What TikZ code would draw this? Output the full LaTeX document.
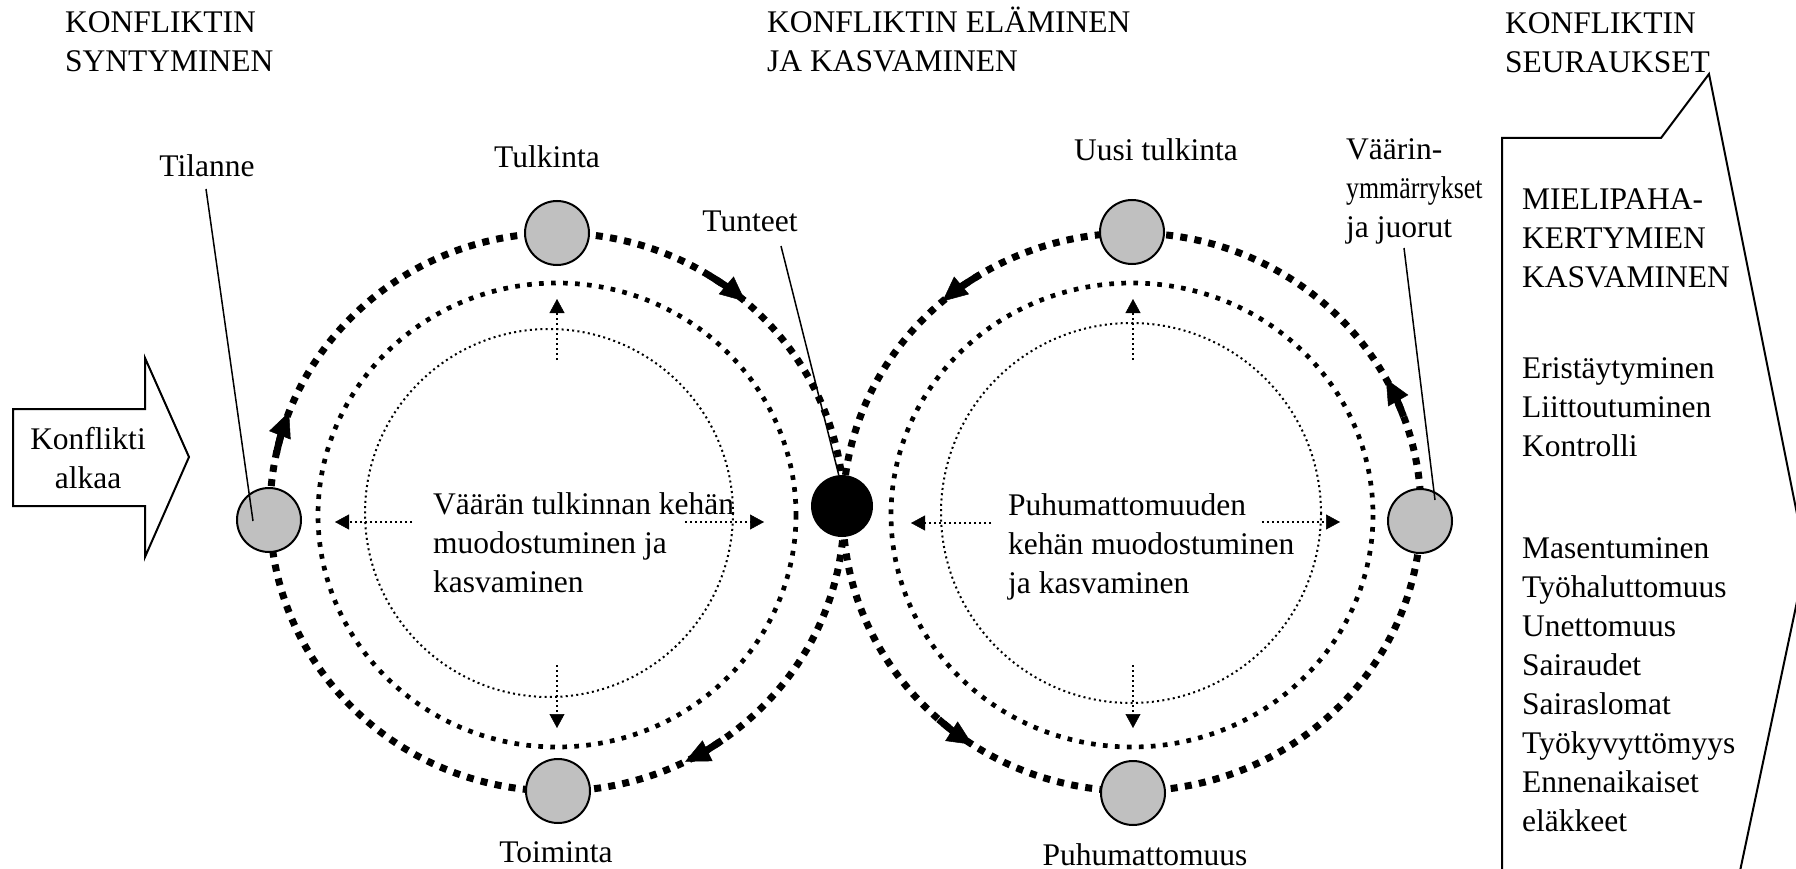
\documentclass[tikz,border=0pt]{standalone}
\usepackage{fontspec}
\usepackage{graphicx}
\setmainfont{Liberation Serif}
\usetikzlibrary{arrows.meta}
\definecolor{stationgray}{RGB}{192,192,192}
\newcommand\fs{\fontsize{31.5}{39}\selectfont}
\begin{document}
\begin{tikzpicture}[x=1pt,y=-1pt,
  outerring/.style={line width=7pt, dash pattern=on 7pt off 7.3pt},
  midring/.style={line width=4.7pt, dash pattern=on 4.7pt off 7.3pt},
  innerring/.style={line width=2pt, dash pattern=on 2pt off 3.3pt},
  flow/.style={line width=7pt, -{Triangle[length=25pt,width=23pt,line width=0.5pt]}},
  spread/.style={line width=2.4pt, dash pattern=on 2.4pt off 2.6pt,
    -{Triangle[length=14pt,width=15pt,line width=0.5pt]}},
  station/.style={circle, draw, line width=2pt, fill=stationgray,
    minimum size=64pt, inner sep=0pt},
  lbl/.style={inner sep=0pt, font=\fs, anchor=base},
  multi/.style={inner sep=0pt, font=\fs, align=left, anchor=north west},
  leader/.style={line width=1.5pt},
  outline/.style={line width=2pt, line join=miter}
]
\useasboundingbox (0,0) rectangle (1796,869);
\clip (0,0) rectangle (1796,869);

% ring centres
\coordinate (Lc) at (557,512);
\coordinate (Rc) at (1132,512);

% three rings of each loop
\draw[outerring] (Lc) ellipse[x radius=287, y radius=279];
\draw[outerring] (Rc) ellipse[x radius=289, y radius=279];
\draw[midring] (557,515) ellipse[x radius=239, y radius=232];
\draw[midring] (1132,515) ellipse[x radius=241, y radius=232];
\draw[innerring] (549,513) circle[radius=184];
\draw[innerring] (1131,513) circle[radius=190];

% direction of travel on the outer rings
\draw[flow, shift={(Lc)}] (-168:287 and 279) arc[start angle=-168, end angle=-159, x radius=287, y radius=279];
\draw[flow, shift={(Lc)}] (-58:287 and 279) arc[start angle=-58, end angle=-49, x radius=287, y radius=279];
\draw[flow, shift={(Lc)}] (55:287 and 279) arc[start angle=55, end angle=63.5, x radius=287, y radius=279];
\draw[flow, shift={(Rc)}] (-122:289 and 279) arc[start angle=-122, end angle=-131, x radius=289, y radius=279];
\draw[flow, shift={(Rc)}] (-228:289 and 279) arc[start angle=-228, end angle=-236.5, x radius=289, y radius=279];
\draw[flow, shift={(Rc)}] (-20:289 and 279) arc[start angle=-20, end angle=-28.5, x radius=289, y radius=279];

% spreading arrows inside the loops
\coordinate (lu0) at (557,360); \coordinate (lu1) at (557,299);
\coordinate (ld0) at (557,665); \coordinate (ld1) at (557,728);
\coordinate (ll0) at (412,522); \coordinate (ll1) at (335,522);
\coordinate (lr0) at (685,522); \coordinate (lr1) at (764,522);
\coordinate (ru0) at (1133,360); \coordinate (ru1) at (1133,299);
\coordinate (rd0) at (1133,665); \coordinate (rd1) at (1133,728);
\coordinate (rl0) at (991,523); \coordinate (rl1) at (911,523);
\coordinate (rr0) at (1262,522); \coordinate (rr1) at (1340,522);
\foreach \a in {lu,ld,ll,lr,ru,rd,rl,rr} \draw[spread] (\a0) -- (\a1);

% stations on the loops
\node[station] (tilanne) at (269,520) {};
\node[station] (tulkinta) at (557,233) {};
\node[station] (toiminta) at (558,791) {};
\node[station] (uusi) at (1132,232) {};
\node[station] (puhu) at (1133,793) {};
\node[station] (vaarin) at (1420,521) {};
\node[circle, fill=black, minimum size=62pt, inner sep=0pt] (tunteetdot) at (842,506) {};

% station labels
\node[lbl] (tilanneLbl) at (207,177) {Tilanne};
\node[lbl] (tulkintaLbl) at (547,168) {Tulkinta};
\node[lbl] (tunteetLbl) at (750,232) {Tunteet};
\node[lbl] (uusiLbl) at (1156,161) {Uusi tulkinta};
\node[lbl] (toimintaLbl) at (556,862) {Toiminta};
\node[lbl] (puhuLbl) at (1145,865) {Puhumattomuus};
\node[multi] (vaarinLbl) at (1346,131.7)
  {\strut Väärin-\\\scalebox{0.82}[1]{ymmärrykset}\\ja juorut};

% leader lines from labels to stations
\coordinate (tilStart) at (206,189);
\coordinate (tilEnd) at (253,521);
\coordinate (tunStart) at (781,246);
\coordinate (vaaStart) at (1404,248);
\coordinate (vaaEnd) at (1435,500);
\draw[leader] (tilStart) -- (tilEnd);
\draw[leader] (tunStart) -- (tunteetdot.96);
\draw[leader] (vaaStart) -- (vaaEnd);

% loop texts
\node[multi] (leftText) at (433,486.7) {\strut Väärän tulkinnan kehän\\muodostuminen ja\\kasvaminen};
\node[multi] (rightText) at (1008,487.7) {\strut Puhumattomuuden\\kehän muodostuminen\\ja kasvaminen};

% phase headings
\node[multi] (phase1) at (65,4.7) {\strut KONFLIKTIN\\SYNTYMINEN};
\node[multi] (phase2) at (767,4.7) {\strut KONFLIKTIN ELÄMINEN\\JA KASVAMINEN};
\node[multi] (phase3) at (1505,5.7) {\strut KONFLIKTIN\\SEURAUKSET};

% start arrow
\draw[outline] (13,409) -- (145,409) -- (145,358) -- (189,457) -- (145,557)
  -- (145,506) -- (13,506) -- cycle;
\node[inner sep=0pt, font=\fs, align=center, anchor=north] (start) at (88,421.7)
  {\strut Konflikti\\alkaa};

% consequences arrow
\draw[outline] (1502,890) -- (1502,138) -- (1661,138) -- (1709,74) -- (1806,559) -- (1736,890);
\node[multi] (consequences) at (1522,181.7) {\strut MIELIPAHA-\\KERTYMIEN\\KASVAMINEN\\[52pt]
  Eristäytyminen\\Liittoutuminen\\Kontrolli\\[63pt]
  Masentuminen\\Työhaluttomuus\\Unettomuus\\Sairaudet\\Sairaslomat\\Työkyvyttömyys\\Ennenaikaiset\\eläkkeet};
\end{tikzpicture}
\end{document}
